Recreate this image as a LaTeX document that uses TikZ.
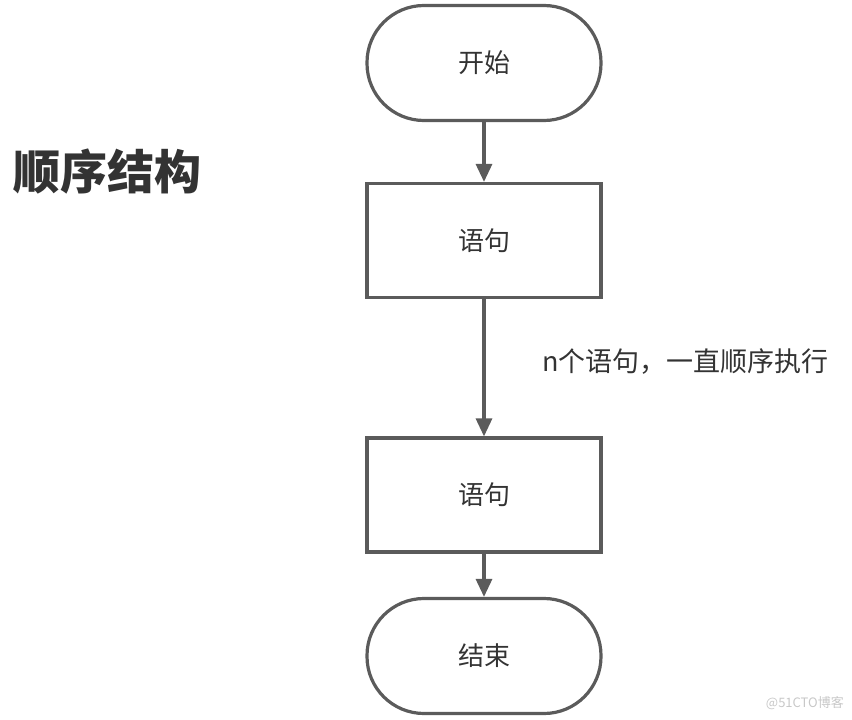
\documentclass[tikz,border=0pt]{standalone}
\usepackage{fontspec}
\setmainfont{Noto Sans CJK SC}
\newfontfamily\cjk{Noto Sans CJK SC}
\usetikzlibrary{arrows.meta}
\definecolor{edge}{HTML}{5B5B5B}
\definecolor{txt}{HTML}{333333}
\definecolor{wm}{HTML}{C8C8C8}
\tikzset{
  term/.style={draw=edge, line width=3.2pt, rounded corners=57pt, minimum width=234pt, minimum height=115pt, inner sep=0pt, text=txt, font=\cjk\fontsize{26}{30}\selectfont},
  stmt/.style={draw=edge, line width=3.2pt, minimum width=234pt, minimum height=114pt, inner sep=0pt, text=txt, font=\cjk\fontsize{26}{30}\selectfont},
  flow/.style={draw=edge, line width=3.2pt, -{Triangle[length=18pt, width=16pt]}}
}
\begin{document}
\begin{tikzpicture}[x=1pt, y=-1pt]
\useasboundingbox (0,0) rectangle (852,720);
\node[term] (start) at (484,63) {开始};
\node[stmt] (s1) at (484,240.5) {语句};
\node[stmt] (s2) at (484,495) {语句};
\node[term] (end) at (484,656) {结束};
\draw[flow] (start) -- (s1);
\draw[flow] (s1) -- (s2);
\draw[flow] (s2) -- (end);
\node[anchor=west, text=txt, font=\cjk\fontsize{27}{30}\selectfont, inner sep=0pt] (lbl) at (542,362) {n个语句，一直顺序执行};
\node[anchor=west, text=txt, font=\cjk\bfseries\fontsize{47}{56}\selectfont, inner sep=0pt] (title) at (13,172) {顺序结构};
\node[anchor=east, text=wm, font=\cjk\fontsize{13}{15}\selectfont, inner sep=0pt] (wmk) at (844,703) {@51CTO博客};
\end{tikzpicture}
\end{document}
